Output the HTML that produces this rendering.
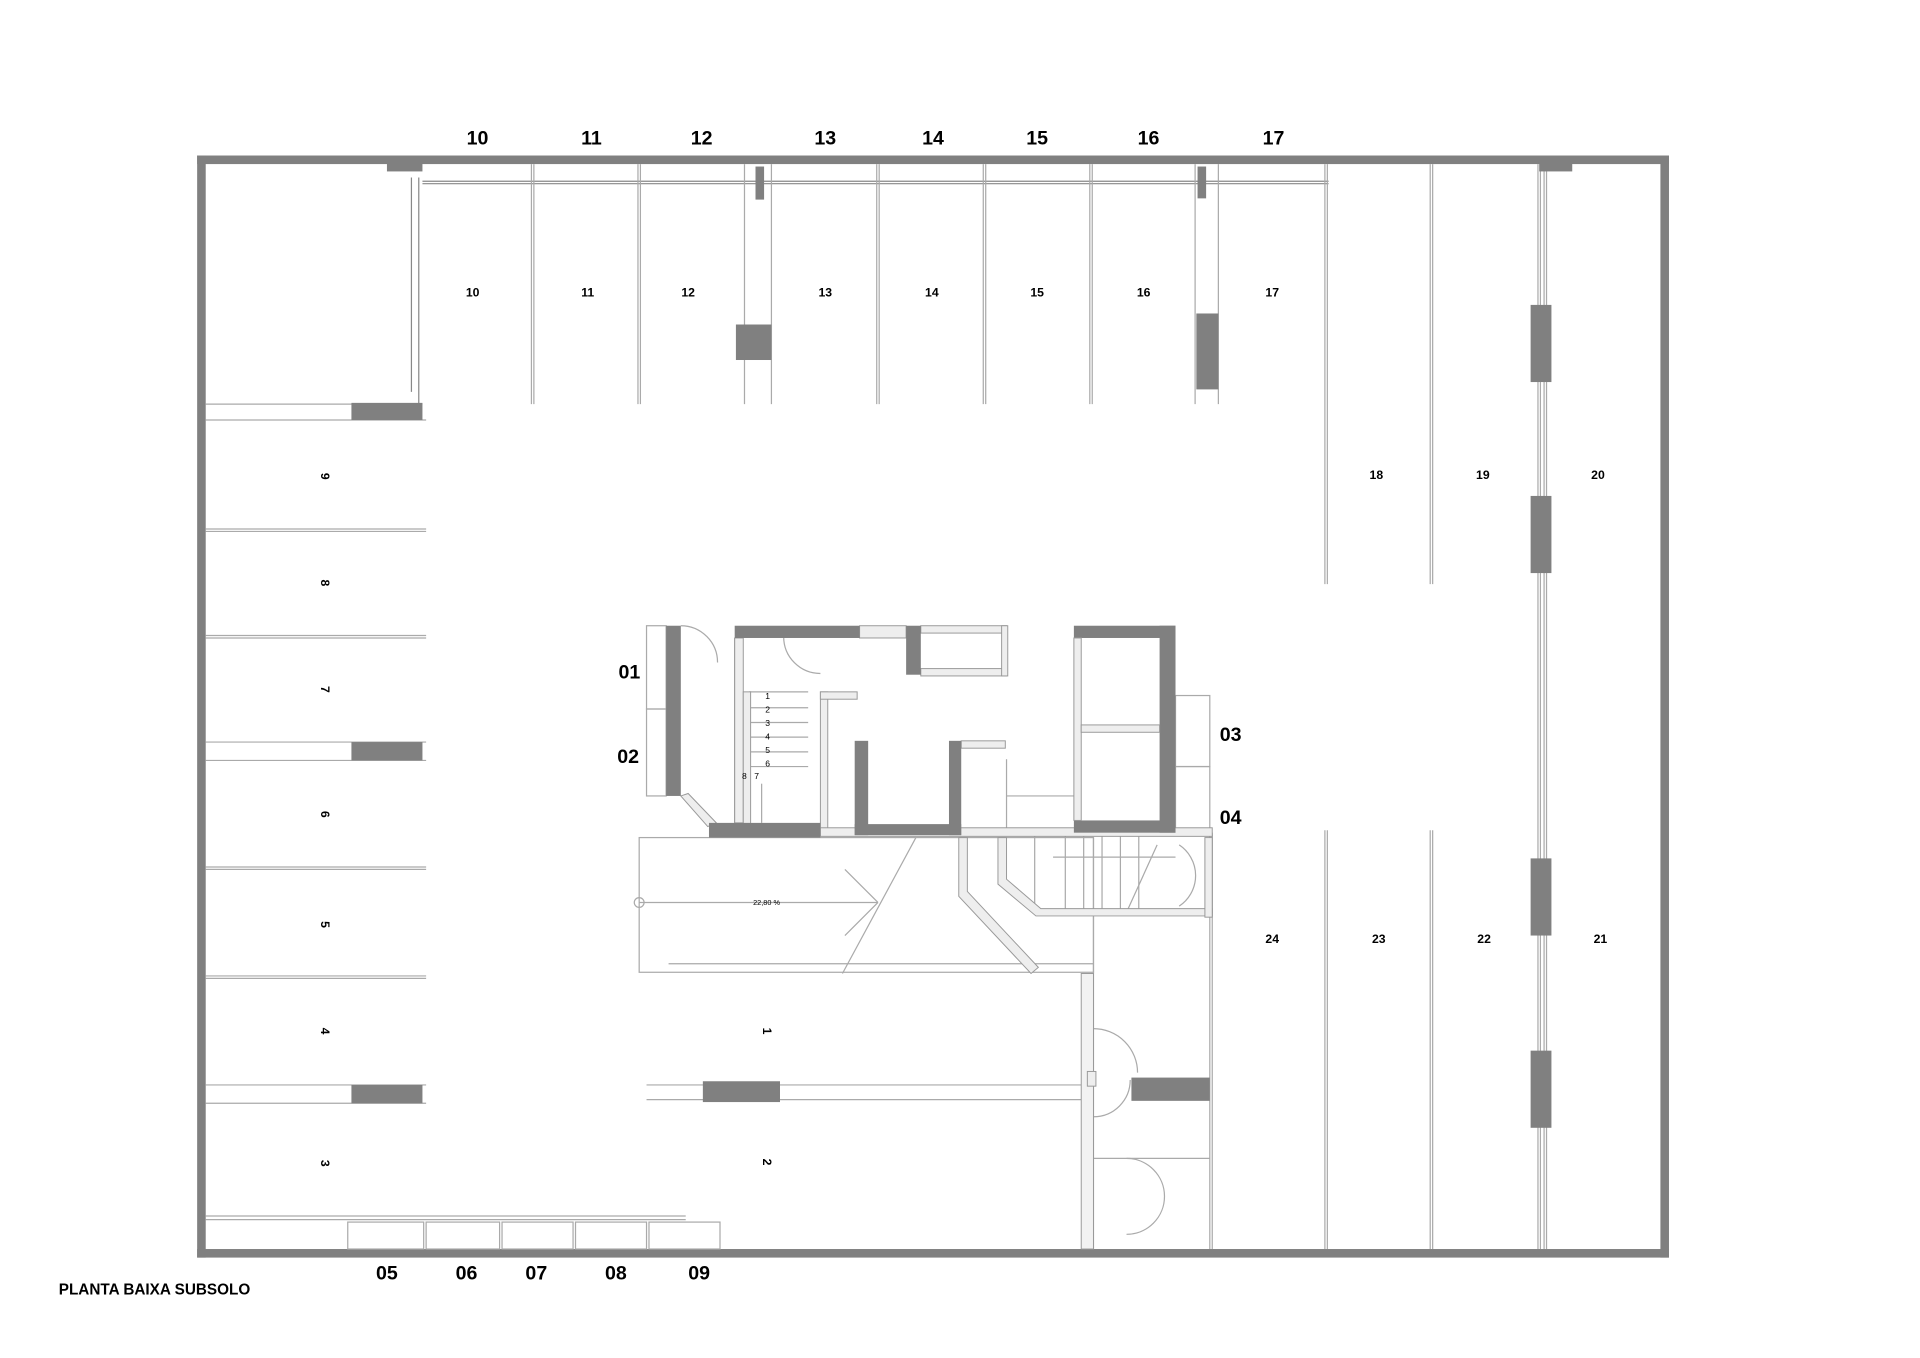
<!DOCTYPE html>
<html><head><meta charset="utf-8"><style>
html,body{margin:0;padding:0;background:#fff;width:1920px;height:1358px;overflow:hidden}
svg{display:block}
text{font-family:"Liberation Sans",Arial,sans-serif;fill:#000}
.b{font-weight:bold;font-size:16px;text-anchor:middle}
.s{font-weight:bold;font-size:10px;text-anchor:middle}
.w{fill:#808080}
.l{stroke:#aaa;stroke-width:1;fill:none}
.d{stroke:#888;stroke-width:1;fill:none}
.h{fill:#eee;stroke:#999;stroke-width:.8}
</style></head><body>
<svg width="1920" height="1358" viewBox="0 0 1568 1109" preserveAspectRatio="none">
<rect class="w" x="161" y="127" width="1202" height="7"/>
<rect class="w" x="161" y="127" width="7" height="900"/>
<rect class="w" x="1356" y="127" width="7" height="900"/>
<rect class="w" x="161" y="1020" width="1202" height="7"/>
<text class="b" x="390" y="118">10</text><text class="b" x="483" y="118">11</text><text class="b" x="573" y="118">12</text><text class="b" x="674" y="118">13</text><text class="b" x="762" y="118">14</text><text class="b" x="847" y="118">15</text><text class="b" x="938" y="118">16</text><text class="b" x="1040" y="118">17</text>
<text class="b" x="316" y="1045">05</text><text class="b" x="381" y="1045">06</text><text class="b" x="438" y="1045">07</text><text class="b" x="503" y="1045">08</text><text class="b" x="571" y="1045">09</text>
<text class="b" x="514" y="554">01</text><text class="b" x="513" y="623">02</text><text class="b" x="1005" y="605">03</text><text class="b" x="1005" y="673">04</text>
<text x="48" y="1057" style="font-weight:bold;font-size:12.5px">PLANTA BAIXA SUBSOLO</text>
<g class="d">
<line x1="345" y1="148" x2="1085" y2="148"/><line x1="345" y1="150" x2="1085" y2="150"/>
<line x1="342" y1="145" x2="342" y2="330"/><line x1="336" y1="145" x2="336" y2="320"/>
</g>
<g class="l">
<line x1="434" y1="134" x2="434" y2="330"/><line x1="436" y1="134" x2="436" y2="330"/>
<line x1="521" y1="134" x2="521" y2="330"/><line x1="523" y1="134" x2="523" y2="330"/>
<line x1="608" y1="134" x2="608" y2="330"/><line x1="630" y1="134" x2="630" y2="330"/>
<line x1="716" y1="134" x2="716" y2="330"/><line x1="718" y1="134" x2="718" y2="330"/>
<line x1="803" y1="134" x2="803" y2="330"/><line x1="805" y1="134" x2="805" y2="330"/>
<line x1="890" y1="134" x2="890" y2="330"/><line x1="892" y1="134" x2="892" y2="330"/>
<line x1="976" y1="134" x2="976" y2="330"/><line x1="995" y1="134" x2="995" y2="330"/>
<line x1="1082" y1="134" x2="1082" y2="477"/><line x1="1084" y1="134" x2="1084" y2="477"/>
<line x1="1168" y1="134" x2="1168" y2="477"/><line x1="1170" y1="134" x2="1170" y2="477"/>
<line x1="1256" y1="134" x2="1256" y2="1020"/><line x1="1258" y1="134" x2="1258" y2="1020"/><line x1="1261" y1="134" x2="1261" y2="1020"/><line x1="1263" y1="134" x2="1263" y2="1020"/>
<line x1="1082" y1="678" x2="1082" y2="1020"/><line x1="1084" y1="678" x2="1084" y2="1020"/>
<line x1="1168" y1="678" x2="1168" y2="1020"/><line x1="1170" y1="678" x2="1170" y2="1020"/>
<line x1="988" y1="680" x2="988" y2="1020"/><line x1="990" y1="680" x2="990" y2="1020"/>
<line x1="168" y1="330" x2="345" y2="330"/><line x1="168" y1="343" x2="348" y2="343"/>
<line x1="168" y1="432" x2="348" y2="432"/><line x1="168" y1="434" x2="348" y2="434"/>
<line x1="168" y1="519" x2="348" y2="519"/><line x1="168" y1="521" x2="348" y2="521"/>
<line x1="168" y1="606" x2="348" y2="606"/><line x1="168" y1="621" x2="348" y2="621"/>
<line x1="168" y1="708" x2="348" y2="708"/><line x1="168" y1="710" x2="348" y2="710"/>
<line x1="168" y1="797" x2="348" y2="797"/><line x1="168" y1="799" x2="348" y2="799"/>
<line x1="168" y1="886" x2="348" y2="886"/><line x1="168" y1="901" x2="348" y2="901"/>
<line x1="168" y1="993" x2="560" y2="993"/><line x1="168" y1="996" x2="560" y2="996"/>
<line x1="528" y1="886" x2="888" y2="886"/><line x1="528" y1="898" x2="888" y2="898"/>
<rect x="284" y="998" width="62" height="22"/><rect x="348" y="998" width="60" height="22"/><rect x="410" y="998" width="58" height="22"/><rect x="470" y="998" width="58" height="22"/><rect x="530" y="998" width="58" height="22"/>
<rect x="960" y="568" width="28" height="58"/><rect x="960" y="626" width="28" height="54"/>
<rect x="528" y="511" width="16" height="68"/><rect x="528" y="579" width="16" height="71"/>
<rect x="522" y="684" width="371" height="110"/>
<line x1="546" y1="787" x2="893" y2="787"/>
<line x1="522" y1="737" x2="717" y2="737"/>
<line x1="748" y1="684" x2="688" y2="795"/>
<line x1="690" y1="710" x2="717" y2="737"/><line x1="690" y1="764" x2="717" y2="737"/>
<circle cx="522" cy="737" r="4"/>
<line x1="893" y1="684" x2="893" y2="1020"/>
<line x1="893" y1="946" x2="988" y2="946"/>
<path d="M893 840 A36 36 0 0 1 929 876"/><path d="M893 912 A30 30 0 0 0 923 882"/>
<path d="M920 946 A30 30 0 0 1 920 1008"/>
<rect x="845" y="682" width="145" height="63"/>
<line x1="860" y1="700" x2="960" y2="700"/>
<line x1="870" y1="682" x2="870" y2="745"/><line x1="885" y1="682" x2="885" y2="745"/><line x1="900" y1="682" x2="900" y2="745"/><line x1="915" y1="682" x2="915" y2="745"/><line x1="930" y1="682" x2="930" y2="745"/>
<line x1="945" y1="690" x2="920" y2="745"/>
<path d="M963 690 A30 30 0 0 1 963 740"/>
<line x1="600" y1="521" x2="600" y2="672"/><line x1="612" y1="565" x2="660" y2="565"/>
<line x1="612" y1="578" x2="660" y2="578"/><line x1="612" y1="590" x2="660" y2="590"/><line x1="612" y1="602" x2="660" y2="602"/><line x1="612" y1="614" x2="660" y2="614"/><line x1="612" y1="626" x2="660" y2="626"/>
<line x1="622" y1="640" x2="622" y2="672"/>
<path d="M556 511 A30 30 0 0 1 586 541"/>
<path d="M640 520 A30 30 0 0 0 670 550"/>
<line x1="822" y1="650" x2="877" y2="650"/>
<line x1="822" y1="620" x2="822" y2="680"/>
</g>
<g class="h">
<rect x="600" y="521" width="7" height="151"/>
<rect x="702" y="511" width="38" height="10"/>
<rect x="752" y="511" width="70" height="6"/><rect x="752" y="546" width="70" height="6"/><rect x="818" y="511" width="5" height="41"/>
<rect x="670" y="565" width="6" height="117"/>
<rect x="670" y="565" width="30" height="6"/>
<rect x="785" y="605" width="36" height="6"/>
<rect x="670" y="676" width="320" height="7"/>
<rect x="607" y="565" width="6" height="110"/>
<polygon points="556,650 562,648 585,672 578,675"/>
<polygon points="783,684 790,684 790,728 848,790 842,795 783,732"/>
<polygon points="815,684 822,684 822,718 850,742 990,742 990,748 846,748 815,722"/>
<rect x="883" y="795" width="10" height="225" style="fill:#f2f2f2"/>
<rect x="984" y="684" width="6" height="65"/>
<rect x="888" y="875" width="7" height="12"/>
</g>
<g class="w">
<rect x="316" y="131" width="29" height="9"/><rect x="1257" y="131" width="27" height="9"/>
<rect x="601" y="265" width="29" height="29"/><rect x="617" y="136" width="7" height="27"/>
<rect x="977" y="256" width="18" height="62"/><rect x="978" y="136" width="7" height="26"/>
<rect x="1250" y="249" width="17" height="63"/><rect x="1250" y="405" width="17" height="63"/>
<rect x="1250" y="701" width="17" height="63"/><rect x="1250" y="858" width="17" height="63"/>
<rect x="287" y="329" width="58" height="14"/><rect x="287" y="606" width="58" height="15"/><rect x="287" y="886" width="58" height="15"/>
<rect x="574" y="883" width="63" height="17"/><rect x="924" y="880" width="64" height="19"/>
<rect x="544" y="511" width="12" height="139"/>
<rect x="600" y="511" width="102" height="10"/>
<rect x="740" y="511" width="12" height="40"/>
<rect x="877" y="511" width="83" height="10"/>
<rect x="947" y="511" width="13" height="169"/>
<rect x="877" y="670" width="83" height="10"/>
<rect x="698" y="605" width="11" height="77"/><rect x="775" y="605" width="10" height="77"/><rect x="698" y="673" width="87" height="9"/>
<rect x="579" y="672" width="91" height="12"/>
</g>
<g class="h"><rect x="877" y="521" width="6" height="149"/><rect x="883" y="592" width="64" height="6"/></g>
<g style="font-size:7px">
<text x="625" y="571">1</text><text x="625" y="582">2</text><text x="625" y="593">3</text><text x="625" y="604">4</text><text x="625" y="615">5</text><text x="625" y="626">6</text><text x="606" y="636">8</text><text x="616" y="636">7</text>
</g>
<text x="626" y="739" style="font-size:6px;text-anchor:middle">22,80 %</text>
<g class="s">
<text x="386" y="242">10</text><text x="480" y="242">11</text><text x="562" y="242">12</text><text x="674" y="242">13</text><text x="761" y="242">14</text><text x="847" y="242">15</text><text x="934" y="242">16</text><text x="1039" y="242">17</text>
<text x="1124" y="391">18</text><text x="1211" y="391">19</text><text x="1305" y="391">20</text>
<text x="1039" y="770">24</text><text x="1126" y="770">23</text><text x="1212" y="770">22</text><text x="1307" y="770">21</text>
<text transform="translate(262,389) rotate(90)">9</text><text transform="translate(262,476) rotate(90)">8</text><text transform="translate(262,563) rotate(90)">7</text><text transform="translate(262,665) rotate(90)">6</text><text transform="translate(262,755) rotate(90)">5</text><text transform="translate(262,842) rotate(90)">4</text><text transform="translate(262,950) rotate(90)">3</text>
<text transform="translate(623,842) rotate(90)">1</text><text transform="translate(623,949) rotate(90)">2</text>
</g>
</svg>
</body></html>
